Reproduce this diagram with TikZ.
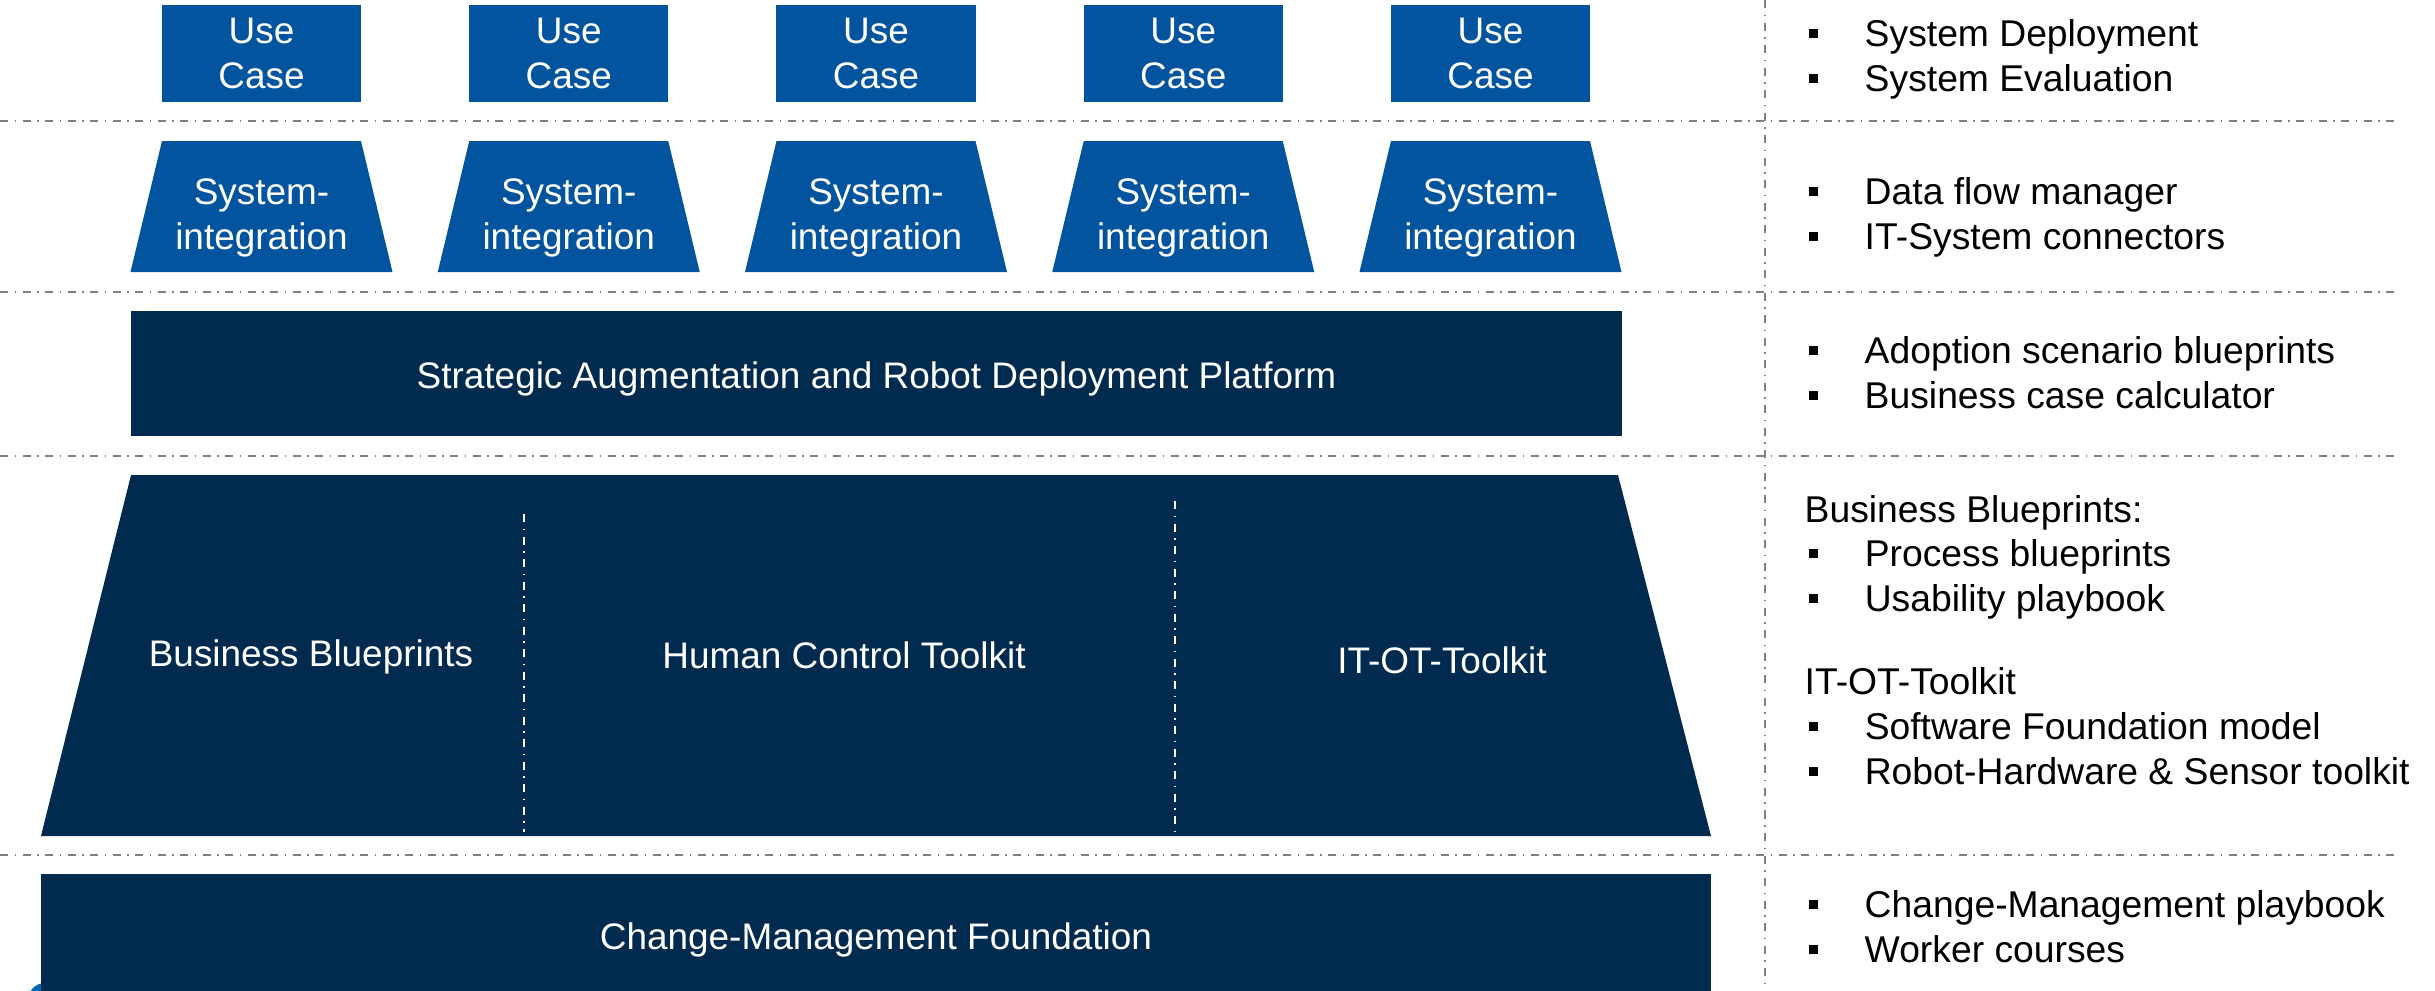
\documentclass[tikz,border=0pt]{standalone}
\usepackage{fontspec}
\setmainfont{Liberation Sans}
\definecolor{ucblue}{RGB}{2,84,158}
\definecolor{navy}{RGB}{0,43,78}
\definecolor{dotblue}{RGB}{0,104,180}
\tikzstyle{usecase} = [fill=ucblue, text=white, minimum width=1.99cm, minimum height=0.97cm, inner sep=0pt, align=center]
\tikzstyle{sysint} = [text=white, inner sep=0pt, align=center]
\tikzstyle{label} = [text=white, inner sep=0pt]
\tikzstyle{sepline} = [gray, line width=0.02cm, dash pattern=on 0.08cm off 0.065cm on 0.015cm off 0.065cm]
\tikzstyle{inline} = [white, line width=0.015cm, dash pattern=on 0.08cm off 0.065cm on 0.015cm off 0.065cm]
\tikzstyle{notes} = [anchor=west, align=left, inner sep=0pt, font=\fontsize{10.6}{12.8}\selectfont]
\newcommand{\itm}{\makebox[0.56cm][l]{\rule[0.085cm]{0.09cm}{0.09cm}}}

\begin{document}
\begin{tikzpicture}[x=0.01cm, y=-0.01cm, every node/.style={font=\fontsize{10.5}{12.8}\selectfont}]
        \useasboundingbox (0,0) rectangle (2435,990);
        \clip (0,0) rectangle (2435,990);

        % separators
        \draw[sepline] (0,121) -- (2395,121);
        \draw[sepline] (0,292) -- (2395,292);
        \draw[sepline] (0,456) -- (2395,456);
        \draw[sepline] (0,855) -- (2395,855);
        \draw[sepline] (1765,0) -- (1765,990);

        % use cases
        \node at (261.5,53.5) [usecase](uc1) {Use\\Case};
        \node at (568.75,53.5) [usecase](uc2) {Use\\Case};
        \node at (876,53.5) [usecase](uc3) {Use\\Case};
        \node at (1183.25,53.5) [usecase](uc4) {Use\\Case};
        \node at (1490.5,53.5) [usecase](uc5) {Use\\Case};

        % system integration
        \fill[ucblue] (162,141) -- ++(199,0) -- ++(31.5,131) -- ++(-262,0) -- cycle;
        \fill[ucblue] (469.25,141) -- ++(199,0) -- ++(31.5,131) -- ++(-262,0) -- cycle;
        \fill[ucblue] (776.5,141) -- ++(199,0) -- ++(31.5,131) -- ++(-262,0) -- cycle;
        \fill[ucblue] (1083.75,141) -- ++(199,0) -- ++(31.5,131) -- ++(-262,0) -- cycle;
        \fill[ucblue] (1391,141) -- ++(199,0) -- ++(31.5,131) -- ++(-262,0) -- cycle;
        \node at (261.5,218) [sysint](si1) {System-\\integration};
        \node at (568.75,218) [sysint](si2) {System-\\integration};
        \node at (876,218) [sysint](si3) {System-\\integration};
        \node at (1183.25,218) [sysint](si4) {System-\\integration};
        \node at (1490.5,218) [sysint](si5) {System-\\integration};

        % platform
        \fill[navy] (131,311) rectangle (1622,436);
        \node at (876.5,379) [label](sarp) {Strategic Augmentation and Robot Deployment Platform};

        % toolkits
        \fill[navy] (131,475) -- (1618,475) -- (1711,836) -- (41,836) -- cycle;
        \node at (311,657) [label](bb) {Business Blueprints};
        \node at (844,655) [label](hct) {Human Control Toolkit};
        \node at (1442,660) [label](itot) {IT-OT-Toolkit};
        \draw[inline] (524,514) -- (524,832);
        \draw[inline] (1175,501) -- (1175,832);

        % foundation
        \fill[dotblue] (45,1000) circle (17);
        \fill[navy] (41,874) rectangle (1711,1000);
        \node at (876,940) [label](cmf) {Change-Management Foundation};

        % notes
        \node at (1808,59) [notes](n1) {\itm System Deployment\\\itm System Evaluation};
        \node at (1808,217) [notes](n2) {\itm Data flow manager\\\itm IT-System connectors};
        \node at (1808,373) [notes](n3) {\itm Adoption scenario blueprints\\\itm Business case calculator};
        \node at (1804,557) [notes](n4) {Business Blueprints:\\[-0.3pt]\hspace*{0.04cm}\itm Process blueprints\\\hspace*{0.04cm}\itm Usability playbook};
        \node at (1804,726) [notes](n5) {IT-OT-Toolkit\\\hspace*{0.04cm}\itm Software Foundation model\\\hspace*{0.04cm}\itm Robot-Hardware \& Sensor toolkit};
        \node at (1808,927) [notes](n6) {\itm Change-Management playbook\\\itm Worker courses};

    \end{tikzpicture}
\end{document}
